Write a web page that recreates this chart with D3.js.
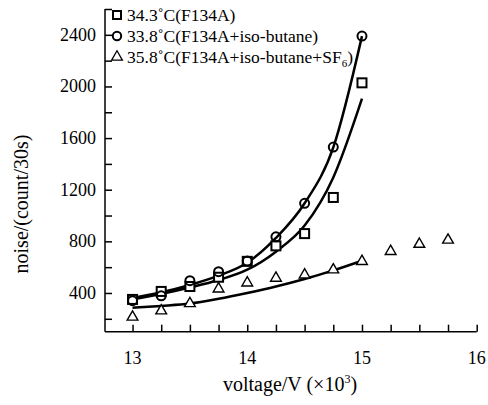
<!DOCTYPE html>
<html><head><meta charset="utf-8">
<script src="https://cdn.jsdelivr.net/npm/d3@7/dist/d3.min.js"></script>
<style>body{margin:0;background:#fff}svg{display:block}text{font-family:"Liberation Serif","Times New Roman",serif;fill:#000}</style>
</head><body><svg id="c" width="488" height="405"></svg>
<script>
// Data
const voltage = [13, 13.25, 13.5, 13.75, 14, 14.25, 14.5, 14.75, 15];
const squareNoise = [350, 412, 450, 522, 645, 765, 860, 1140, 2028];
const circleNoise = [340, 378, 495, 565, 648, 835, 1095, 1530, 2390];
const voltageTri = [13, 13.25, 13.5, 13.75, 14, 14.25, 14.5, 14.75, 15, 15.25, 15.5, 15.75];
const triangleNoise = [214, 262, 318, 432, 478, 515, 540, 580, 645, 722, 778, 810];
// fitted trend curves
const fitX = [13, 13.25, 13.5, 13.75, 14, 14.25, 14.5, 14.75, 15];
const fitCircle = [362, 405, 462, 534, 634, 826, 1095, 1528, 2390];
const fitSquare = [352, 392, 442, 500, 580, 720, 922, 1295, 1905];
const fitTriangle = [286, 300, 318, 355, 400, 450, 508, 575, 650];
const xTicks = [13, 14, 15, 16];
const yTicks = [400, 800, 1200, 1600, 2000, 2400];
const legendLabels = ["34.3\u02DAC(F134A)", "33.8\u02DAC(F134A+iso-butane)", "35.8\u02DAC(F134A+iso-butane+SF"];

const svg = d3.select("#c");
const x = d3.scaleLinear().domain([12.76, 16]).range([105, 476.7]);
const y = d3.scaleLinear().domain([100, 2600]).range([331.7, 9]);

// axes
const xAxis = d3.axisBottom(x).tickValues(d3.range(13, 16.01, 0.25)).tickSizeInner(-7).tickSizeOuter(0).tickFormat("");
const gx = svg.append("g").attr("transform", `translate(0,${y.range()[0]})`).call(xAxis);
const yAxis = d3.axisLeft(y).tickValues(d3.range(200, 2601, 200)).tickSizeInner(-7).tickSizeOuter(0).tickFormat("");
const gy = svg.append("g").attr("transform", `translate(${x.range()[0]},0)`).call(yAxis);
[gx, gy].forEach(g => { g.selectAll("path,line").attr("stroke", "#000").attr("stroke-width", 1.5); });
gx.select("path").attr("d", `M${x.range()[0]},0H${x.range()[1]}`);
gy.select("path").attr("d", `M0,${y.range()[0]}V${y.range()[1]}`);

// tick labels
svg.append("g").selectAll("text").data(xTicks).join("text")
  .attr("x", d => x(d)).attr("y", 364).attr("text-anchor", "middle")
  .attr("font-size", 18).text(d => d);
svg.append("g").selectAll("text").data(yTicks).join("text")
  .attr("x", 96).attr("y", d => y(d) + 6).attr("text-anchor", "end")
  .attr("font-size", 18).text(d => d);

// axis titles
const xl = svg.append("text").attr("x", 290).attr("y", 391).attr("text-anchor", "middle").attr("font-size", 20);
xl.append("tspan").text("voltage/V (\u00D710");
xl.append("tspan").attr("font-size", 12).attr("dy", -8).text("3");
xl.append("tspan").attr("dy", 8).text(")");
svg.append("text").attr("transform", "translate(28,204) rotate(-90)").attr("text-anchor", "middle")
  .attr("font-size", 20).text("noise/(count/30s)");

// fitted curves
const line = (xs, ys) => d3.line().curve(d3.curveMonotoneX).x((d, i) => x(xs[i])).y(d => y(d))(ys);
[fitCircle, fitSquare, fitTriangle].forEach(f => {
  svg.append("path").attr("d", line(fitX, f)).attr("fill", "none").attr("stroke", "#000").attr("stroke-width", 2.5);
});

// markers
const sw = 2;
svg.append("g").selectAll("rect").data(squareNoise).join("rect")
  .attr("x", (d, i) => x(voltage[i]) - 4.5).attr("y", d => y(d) - 4.5).attr("width", 9).attr("height", 9)
  .attr("fill", "#fff").attr("stroke", "#000").attr("stroke-width", sw);
svg.append("g").selectAll("circle").data(circleNoise).join("circle")
  .attr("cx", (d, i) => x(voltage[i])).attr("cy", d => y(d)).attr("r", 4.5)
  .attr("fill", "none").attr("stroke", "#000").attr("stroke-width", sw);
const tri = d3.symbol().type(d3.symbolTriangle).size(50);
svg.append("g").selectAll("path").data(triangleNoise).join("path")
  .attr("transform", (d, i) => `translate(${x(voltageTri[i])},${y(d)})`).attr("d", tri)
  .attr("fill", "#fff").attr("stroke", "#000").attr("stroke-width", 1.4);

// legend
const ly = [15, 36, 57];
svg.append("rect").attr("x", 113).attr("y", ly[0] - 4).attr("width", 8).attr("height", 8)
  .attr("fill", "#fff").attr("stroke", "#000").attr("stroke-width", sw);
svg.append("circle").attr("cx", 117).attr("cy", ly[1]).attr("r", 4.2)
  .attr("fill", "none").attr("stroke", "#000").attr("stroke-width", sw);
svg.append("path").attr("transform", `translate(117,${ly[2]})`).attr("d", tri)
  .attr("fill", "#fff").attr("stroke", "#000").attr("stroke-width", 1.3);
legendLabels.forEach((t, i) => {
  const tx = svg.append("text").attr("x", 127).attr("y", ly[i] + 6).attr("font-size", 17.5);
  tx.append("tspan").text(t);
  if (i === 2) {
    tx.append("tspan").attr("font-size", 11).attr("dy", 4).text("6");
    tx.append("tspan").attr("dy", -4).text(")");
  }
});
</script></body></html>
